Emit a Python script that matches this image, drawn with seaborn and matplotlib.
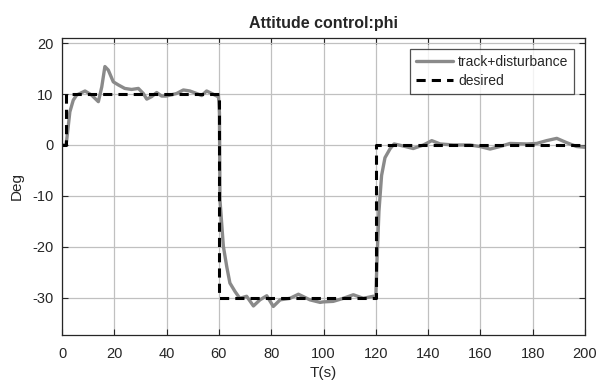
import seaborn as sns
import pandas as pd
import matplotlib.pyplot as plt

# values
t_track = [0, 1.5, 1.8, 3.0, 4.3, 5.6, 8.8, 11.3, 13.9, 15.2, 16.4, 17.7, 19.6,
           21.5, 24.0, 26.6, 29.2, 31.1, 32.4, 34.3, 36.2, 38.1, 39.8, 43.8,
           46.4, 48.9, 51.5, 53.4, 55.3, 57.3, 59.2, 59.8, 60.2, 60.4, 61.7,
           63.0, 64.2, 66.2, 68.0, 70.6, 73.2, 75.7, 78.3, 80.8, 83.4, 87.2,
           90.4, 94.8, 98.7, 99.9, 103.7, 107.6, 111.4, 115.2, 119.0, 120.0,
           120.5, 121.2, 122.2, 123.5, 125.5, 127.0, 130.5, 134.3, 138.2,
           141.4, 144.6, 149.7, 156.0, 159.8, 163.7, 167.5, 171.3, 177.7,
           181.5, 185.3, 189.2, 193.0, 196.8, 200]
phi_track = [0, 0, 1.0, 6.5, 8.8, 9.8, 10.6, 9.8, 8.5, 11.4, 15.4, 14.7, 12.4,
             11.8, 11.1, 10.9, 11.1, 10.1, 9.0, 9.5, 10.3, 9.6, 9.6, 10.1,
             10.8, 10.6, 10.1, 9.7, 10.6, 10.1, 9.6, 9.8, 6.3, -10.8, -19.9,
             -23.9, -27.1, -28.8, -30.1, -29.7, -31.6, -30.4, -29.6, -31.7,
             -30.4, -30.1, -29.3, -30.4, -30.9, -30.8, -30.7, -30.1, -29.4,
             -30.1, -29.7, -29.7, -22.0, -13.0, -6.0, -2.5, -0.7, 0.2, -0.2,
             -0.7, 0.0, 0.85, 0.2, 0.0, 0.0, -0.3, -0.8, -0.3, 0.3, 0.2, 0.3,
             0.85, 1.3, 0.45, -0.3, -0.45]

t_desired = [0, 1.5, 60, 120, 200]
phi_desired = [0, 10, -30, 0, 0]

df_track = pd.DataFrame({"t": t_track, "phi": phi_track})
df_des = pd.DataFrame({"t": t_desired, "phi": phi_desired})

sns.set_theme(style="whitegrid")
plt.rcParams['font.family'] = ['Liberation Sans', 'DejaVu Sans']
plt.rcParams['axes.unicode_minus'] = False

fig = plt.figure(figsize=(5.98, 3.87), dpi=100)
ax = fig.add_axes([0.1037, 0.1344, 0.8746, 0.7674])
ax.set_facecolor('white')

sns.lineplot(x="t", y="phi", data=df_track, ax=ax, color='#8a8a8a',
             linewidth=2.4, label='track+disturbance', estimator=None, sort=False)
ax.plot(df_des["t"], df_des["phi"], drawstyle='steps-post', color='black',
        linewidth=2.2, linestyle=(0, (3, 2)), label='desired')

ax.set_xlim(0, 200)
ax.set_ylim(-37.3, 21)
ax.set_xticks(range(0, 201, 20))
ax.set_yticks([-30, -20, -10, 0, 10, 20])
ax.grid(True, color='#c0c0c0', linewidth=0.9)
for s in ax.spines.values():
    s.set_color('#262626')
    s.set_linewidth(0.9)
ax.tick_params(direction='in', length=4, width=0.8, color='#262626',
               top=True, right=True, bottom=True, left=True,
               labelsize=10.5, labelcolor='#262626')
ax.tick_params(axis='x', pad=9)
ax.tick_params(axis='y', pad=6)

ax.set_title("Attitude control:phi", fontsize=11.5, fontweight='bold', pad=7)
ax.set_xlabel("T(s)", fontsize=11, labelpad=3, color='#262626')
ax.set_ylabel("Deg", fontsize=11, labelpad=6, color='#262626')

leg = ax.legend(loc='upper right', fontsize=10, frameon=True, fancybox=False,
                handlelength=2.7, borderpad=0.4, labelspacing=0.4,
                handletextpad=0.35, borderaxespad=0.8)
leg.get_frame().set_edgecolor('#262626')
leg.get_frame().set_linewidth(0.9)

plt.savefig('out.png', dpi=100)
